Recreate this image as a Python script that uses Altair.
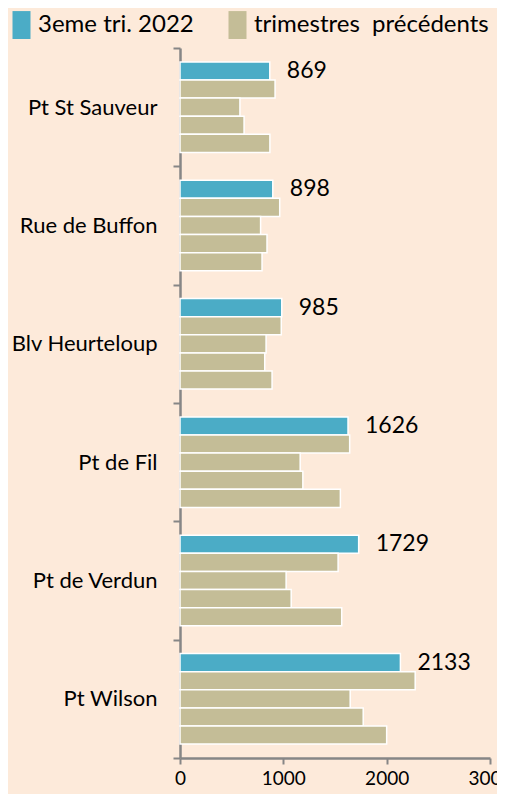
import altair as alt
import pandas as pd

categories = ["Pt St Sauveur", "Rue de Buffon", "Blv Heurteloup", "Pt de Fil", "Pt de Verdun", "Pt Wilson"]
current_q = [869, 898, 985, 1626, 1729, 2133]
prev_a = [920, 965, 980, 1642, 1530, 2276]
prev_b = [580, 780, 833, 1163, 1027, 1647]
prev_c = [620, 842, 820, 1189, 1076, 1773]
prev_d = [870, 794, 891, 1552, 1565, 2000]
series_names = ["3eme tri. 2022", "trimestres\u00a0 précédents"]
x_ticks = [0, 1000, 2000, 3000]

BLUE = "#4BACC6"
BEIGE = "#C4BD97"
BG = "#FDEADA"
GREY = "#868686"
FONT = "Lato"

rows = []
all_series = [current_q, prev_a, prev_b, prev_c, prev_d]
for i, cat in enumerate(categories):
    for slot, s in enumerate(all_series):
        rows.append({
            "category": cat,
            "slot": slot,
            "value": s[i],
            "kind": series_names[0] if slot == 0 else series_names[1],
        })
df = pd.DataFrame(rows)

y_enc = alt.Y(
    "category:N",
    sort=categories,
    scale=alt.Scale(paddingInner=0, paddingOuter=0),
    axis=alt.Axis(
        title=None, tickBand="extent", tickSize=7, tickWidth=2, tickColor=GREY,
        domainColor=GREY, domainWidth=2.5, labelFont=FONT, labelFontSize=22,
        labelColor="black", labelPadding=16, labelLimit=200,
    ),
)
yoff_enc = alt.YOffset("slot:O", scale=alt.Scale(paddingInner=0, paddingOuter=0.77))
x_enc = alt.X(
    "value:Q",
    scale=alt.Scale(domain=[0, 3000], nice=False),
    axis=alt.Axis(
        title=None, values=x_ticks, grid=False, format="d", tickSize=6, tickWidth=2,
        tickColor=GREY, domainColor=GREY, domainWidth=2.5, labelFont=FONT,
        labelFontSize=19, labelColor="black", labelPadding=5, labelFlush=False,
        labelOverlap=False, labelBound=False,
    ),
)

bars = alt.Chart(df).mark_bar(stroke="white", strokeWidth=1.5).encode(
    x=x_enc,
    y=y_enc,
    yOffset=yoff_enc,
    color=alt.Color(
        "kind:N",
        scale=alt.Scale(domain=series_names, range=[BLUE, BEIGE]),
        legend=alt.Legend(
            title=None, orient="none", direction="horizontal",
            legendX=-172, legendY=-38,
            symbolType="M-0.7,-0.93H0.5V0.93H-0.7Z", symbolSize=900,
            symbolStrokeWidth=0, labelOffset=0, columnPadding=30,
            labelFont=FONT, labelFontSize=24, labelColor="black", labelLimit=400,
        ),
    ),
)

labels = alt.Chart(df).transform_filter(alt.datum.slot == 0).mark_text(
    align="left", baseline="middle", dx=17, font=FONT, fontSize=23, color="black"
).encode(
    x=x_enc,
    y=y_enc,
    yOffset=yoff_enc,
    text=alt.Text("value:Q", format="d"),
)

chart = alt.layer(bars, labels).properties(
    width=310,
    height=710,
    padding={"left": 172, "top": 40, "right": 7, "bottom": 36},
    autosize=alt.AutoSizeParams(type="none"),
    background=BG,
).configure_view(stroke=None)

chart.save("out.html", embed_options={"renderer": "svg", "actions": False})
